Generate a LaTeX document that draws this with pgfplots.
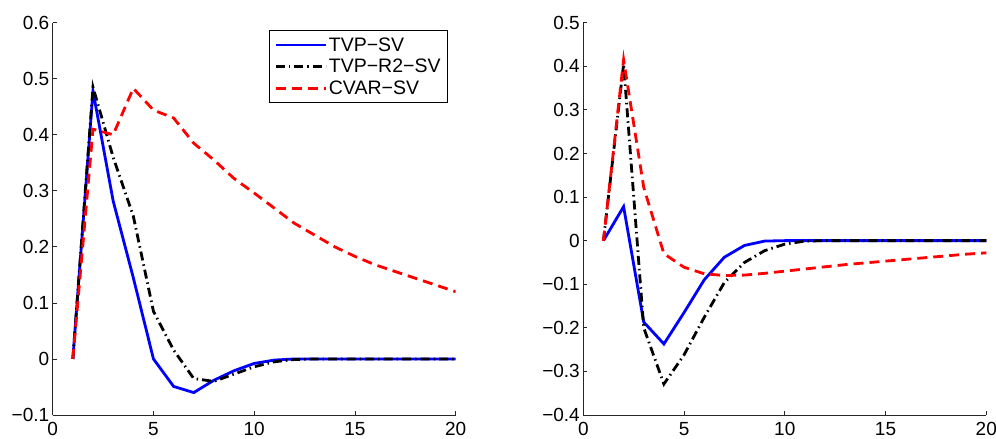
\documentclass[border=0pt]{standalone}
\usepackage{fontspec}
\setmainfont{Liberation Sans}
\usepackage{pgfplots}
\pgfplotsset{compat=1.18}

\pgfplotsset{
  irf/.style={
    scale only axis,
    width=403pt, height=392.3pt,
    xmin=0, xmax=20,
    axis x line*=bottom, axis y line*=left,
    axis line style={black!85, line width=0.8pt},
    tick align=inside, major tick length=4pt,
    tick style={black!85, line width=0.8pt},
    xtick={0,5,10,15,20},
    xticklabels={0,5,10,15,20},
    tick label style={font=\fontsize{19pt}{22pt}\selectfont},
    xticklabel style={yshift=-4pt},
    clip=true,
  },
  tvp/.style={blue, line width=2.8pt},
  tvpr/.style={black, line width=2.8pt, dash pattern=on 9pt off 4pt on 1.5pt off 4pt},
  cvar/.style={red, line width=2.8pt, dash pattern=on 10pt off 6pt},
}

\begin{document}
\begin{tikzpicture}[x=1pt,y=1pt]
\useasboundingbox (0,0) rectangle (996,439);

% left panel
\begin{axis}[irf,
    at={(52.7pt,24pt)}, anchor=south west,
    ymin=-0.1, ymax=0.6,
    ytick={-0.1,0,0.1,0.2,0.3,0.4,0.5,0.6},
    yticklabels={−0.1,0,0.1,0.2,0.3,0.4,0.5,0.6},
    legend style={at={(1,1)}, anchor=north east, xshift=-7.7pt, yshift=-7.3pt,
      draw=black, line width=0.9pt, font=\fontsize{19.5pt}{22pt}\selectfont,
      row sep=2.5pt, inner xsep=5pt, inner ysep=5pt,
      cells={anchor=west}},
    legend image code/.code={\draw[#1, line width=2.8pt] (0pt,0pt) -- (50pt,0pt);},
]
\addplot[tvp] coordinates {
(1,0)(2,0.478)(3,0.282)(4,0.145)(5,0)(6,-0.049)(7,-0.06)(8,-0.038)(9,-0.021)(10,-0.008)
(11,-0.002)(12,0)(13,0)(14,0)(15,0)(16,0)(17,0)(18,0)(19,0)(20,0)};
\addlegendentry{TVP−SV}
\addplot[tvpr] coordinates {
(1,0)(2,0.485)(3,0.36)(4,0.255)(5,0.085)(6,0.016)(7,-0.035)(8,-0.04)(9,-0.027)(10,-0.014)
(11,-0.005)(12,-0.001)(13,0)(14,0)(15,0)(16,0)(17,0)(18,0)(19,0)(20,0)};
\addlegendentry{TVP−R2−SV}
\addplot[cvar] coordinates {
(1,0)(2,0.41)(3,0.40)(4,0.483)(5,0.444)(6,0.43)(7,0.385)(8,0.355)(9,0.322)(10,0.296)
(11,0.269)(12,0.242)(13,0.221)(14,0.2)(15,0.183)(16,0.168)(17,0.156)(18,0.144)(19,0.132)(20,0.12)};
\addlegendentry{CVAR−SV}
\end{axis}

% right panel
\begin{axis}[irf,
    at={(583.3pt,24pt)}, anchor=south west,
    ymin=-0.4, ymax=0.5,
    ytick={-0.4,-0.3,-0.2,-0.1,0,0.1,0.2,0.3,0.4,0.5},
    yticklabels={−0.4,−0.3,−0.2,−0.1,0,0.1,0.2,0.3,0.4,0.5},
]
\addplot[tvp] coordinates {
(1,0)(2,0.078)(3,-0.187)(4,-0.237)(5,-0.165)(6,-0.09)(7,-0.038)(8,-0.011)(9,-0.001)(10,0)
(11,0)(12,0)(13,0)(14,0)(15,0)(16,0)(17,0)(18,0)(19,0)(20,0)};
\addplot[tvpr] coordinates {
(1,0)(2,0.405)(3,-0.2)(4,-0.329)(5,-0.262)(6,-0.176)(7,-0.096)(8,-0.05)(9,-0.023)(10,-0.008)
(11,-0.001)(12,0)(13,0)(14,0)(15,0)(16,0)(17,0)(18,0)(19,0)(20,0)};
\addplot[cvar] coordinates {
(1,0)(2,0.415)(3,0.122)(4,-0.03)(5,-0.061)(6,-0.076)(7,-0.08)(8,-0.079)(9,-0.075)(10,-0.07)
(11,-0.065)(12,-0.06)(13,-0.055)(14,-0.051)(15,-0.047)(16,-0.043)(17,-0.039)(18,-0.035)(19,-0.031)(20,-0.028)};
\end{axis}
\end{tikzpicture}
\end{document}
